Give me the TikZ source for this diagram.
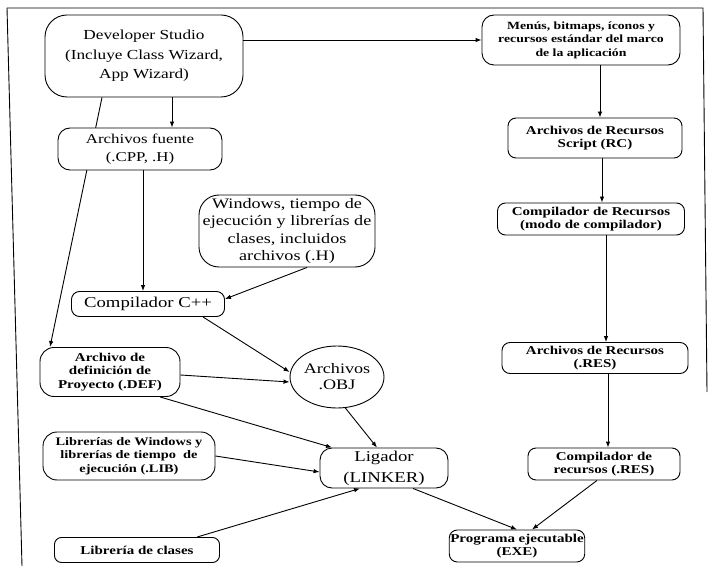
\documentclass[tikz,border=0pt]{standalone}
\usepackage{fontspec}
\setmainfont{Liberation Serif}[FakeStretch=1.25]
\usepackage{tikz}
\usetikzlibrary{arrows.meta,calc,backgrounds,shapes.geometric}
\tikzset{
  box/.style={draw, fill=white, align=center, line width=0.9pt, inner sep=1pt,
              rounded corners=#1},
  box/.default=8pt,
  big/.style={font=\fontsize{13.5}{18}\selectfont},
  sml/.style={font=\bfseries\fontsize{12}{13.5}\selectfont},
  ar/.style ={-{Latex[length=6pt,width=4.5pt]}, line width=0.9pt},
}

\begin{document}
\begin{tikzpicture}[x=1pt,y=-1pt]
\useasboundingbox (0,0) rectangle (712,569);

% ============ frame (open at the bottom) ====================================
\draw[line width=0.9pt] (22,566) -- (7,8) -- (703,8) -- (707,392);

% ============ left column: C++ sources ======================================
\node[box=22pt, big, font=\fontsize{13.8}{19.5}\selectfont, minimum width=198pt, minimum height=82pt] (dev) at (144,56)
  {Developer Studio\\(Incluye Class Wizard,\\App Wizard)};
\node[box=12pt, big, minimum width=164pt, minimum height=42pt] (src) at (140,149)
  {Archivos fuente\\(.CPP, .H)};
\node[box=20pt, font=\fontsize{14.5}{17.5}\selectfont, minimum width=176pt, minimum height=72pt] (win) at (287,231)
  {Windows, tiempo de\\ejecución y librerías de\\clases, incluidos\\archivos (.H)};
\node[box=8pt, font=\fontsize{15}{18}\selectfont, minimum width=153pt, minimum height=25pt] (cpp) at (148,304) {Compilador C++};
\node[box=14pt, sml, minimum width=140pt, minimum height=49pt] (def) at (110,372)
  {Archivo de\\definición de\\Proyecto (.DEF)};
\node[draw, fill=white, ellipse, line width=0.9pt, inner sep=0pt, align=center,
      font=\fontsize{14.5}{16}\selectfont, minimum width=86pt, minimum height=62pt] (obj) at (337,377)
  {Archivos\\.OBJ};
\node[box=14pt, sml, font=\bfseries\fontsize{11.5}{13.5}\selectfont, minimum width=172pt, minimum height=48pt] (lib) at (129,456)
  {Librerías de Windows y\\librerías de tiempo~ de\\ejecución (.LIB)};
\node[box=7pt, sml, minimum width=165pt, minimum height=25pt] (cls) at (137,550) {Librería de clases};
\node[box=12pt, font=\fontsize{15}{21}\selectfont, minimum width=128pt, minimum height=40pt] (lig) at (384,468)
  {Ligador\\(LINKER)};
\node[box=8pt, sml, minimum width=135pt, minimum height=32pt] (exe) at (517,546)
  {Programa ejecutable\\(EXE)};

% ============ right column: resources =======================================
\node[box=12pt, sml, font=\bfseries\fontsize{11}{13.5}\selectfont, minimum width=198pt, minimum height=50pt] (menus) at (581,40)
  {Menús, bitmaps, íconos y\\recursos estándar del marco\\de la aplicación};
\node[box=8pt, sml, minimum width=174pt, minimum height=40pt] (rcs) at (595,138)
  {Archivos de Recursos\\Script (RC)};
\node[box=8pt, sml, minimum width=187pt, minimum height=32pt] (rcomp) at (591,219)
  {Compilador de Recursos\\(modo de compilador)};
\node[box=8pt, sml, minimum width=186pt, minimum height=31pt] (res) at (595,358)
  {Archivos de Recursos\\(.RES)};
\node[box=8pt, sml, minimum width=152pt, minimum height=32pt] (cres) at (604,464)
  {Compilador de\\recursos (.RES)};

% ============ connectors ====================================================
\begin{scope}[on background layer]
  \draw[ar] ([xshift=-42pt]dev.south) -- ([xshift=-60pt]def.north);
\end{scope}
\draw[ar] ([xshift=28pt]dev.south) -- ([xshift=28pt]dev.south |- src.north);
\draw[ar] ([xshift=3pt]src.south) -- ([xshift=3pt]src.south |- cpp.north);
\draw[ar] ([xshift=20pt]win.south) -- ([yshift=5pt]cpp.east);
\draw[ar] ([xshift=55pt]cpp.south) -- ([yshift=5pt]obj.west);
\draw[ar] ([yshift=-3pt]def.east) -- ([yshift=-5pt]obj.west);
\draw[ar] (obj.-75) -- ([xshift=-7pt]lig.north);
\draw[ar] ([xshift=50pt]def.south) -- ([xshift=-52pt]lig.north);
\draw[ar] (lib.east) -- ([yshift=-4pt]lig.west);
\draw[ar] ([xshift=60pt]cls.north) -- ([xshift=-24pt]lig.south);
\draw[ar] ([xshift=29pt]lig.south) -- (exe.north);
\draw[ar] ([xshift=-7pt]cres.south) -- ([xshift=15pt]exe.north);

\draw[ar] (dev.east |- menus.west) -- (menus.west);
\draw[ar] ([xshift=19pt]menus.south) -- ([xshift=19pt]menus.south |- rcs.north);
\draw[ar] ([xshift=7pt]rcs.south) -- ([xshift=7pt]rcs.south |- rcomp.north);
\draw[ar] ([xshift=15pt]rcomp.south) -- ([xshift=15pt]rcomp.south |- res.north);
\draw[ar] ([xshift=13pt]res.south) -- ([xshift=13pt]res.south |- cres.north);

\end{tikzpicture}
\end{document}
